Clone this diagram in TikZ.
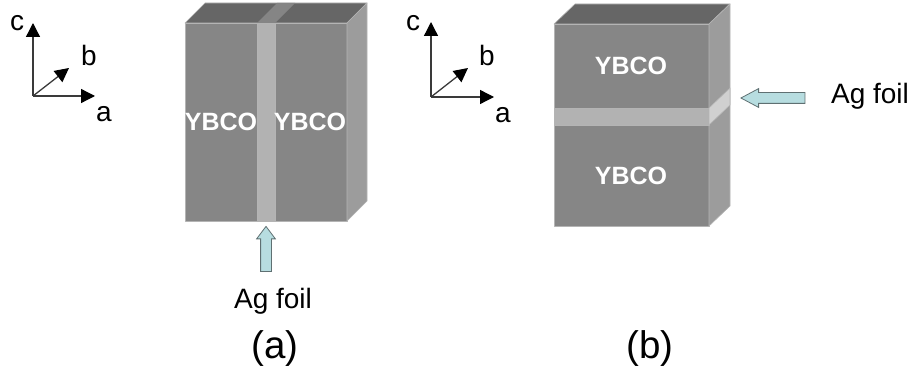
\documentclass[tikz,border=0pt]{standalone}
\usepackage{fontspec}
\setmainfont{Liberation Sans}
\usetikzlibrary{arrows.meta, shapes.arrows}
\definecolor{frontgray}{HTML}{868686}
\definecolor{topgray}{HTML}{666666}
\definecolor{sidegray}{HTML}{9C9C9C}
\definecolor{bandgray}{HTML}{B2B2B2}
\definecolor{bandtop}{HTML}{858585}
\definecolor{bandside}{HTML}{D0D0D0}
\definecolor{edgegray}{HTML}{B4B4B4}
\definecolor{foilblue}{HTML}{B7DDE0}
\definecolor{foiledge}{HTML}{5F7072}
\definecolor{axisgray}{HTML}{3A3A3A}
\newcommand{\sizedfont}[1]{\fontsize{#1}{#1}\selectfont}
\tikzset{
  face/.style={draw=edgegray, line width=0.6pt, line join=round},
  axisline/.style={draw=axisgray, line width=1.3pt, -{Triangle[length=14pt,width=14pt,color=black]}},
  axislabel/.style={anchor=base, inner sep=0pt, font=\sizedfont{28}},
  foilarrow/.style={single arrow, draw=foiledge, fill=foilblue, line width=0.8pt, inner sep=5pt,
    minimum width=18pt, single arrow head extend=4pt},
  foillabel/.style={anchor=base, inner sep=0pt, font=\sizedfont{28}},
  ybcolabel/.style={anchor=base, inner sep=0pt, text=white, font=\sizedfont{25}\bfseries},
  caption/.style={anchor=base, inner sep=0pt, font=\sizedfont{38.5}}
}
\begin{document}
\begin{tikzpicture}[x=1pt,y=-1pt]
    \useasboundingbox (0,0) rectangle (912,374);
    % axes of (a)
    \coordinate (origina) at (33,96);
    \coordinate (aenda) at (95,96);
    \coordinate (benda) at (69,68);
    \coordinate (cenda) at (33,23);
    \draw[axisline] (origina) -- (aenda);
    \draw[axisline] (origina) -- (benda);
    \draw[axisline] (origina) -- (cenda);
    \node (alabela) at (104,122) [axislabel] {a};
    \node (blabela) at (89,66) [axislabel] {b};
    \node (clabela) at (17,31) [axislabel] {c};
    % block (a)
    \fill[face,fill=frontgray] (185,23) rectangle (347,221);
    \fill[face,fill=topgray] (185,23) -- (205,3) -- (367,3) -- (347,23) -- cycle;
    \fill[face,fill=sidegray] (347,23) -- (367,3) -- (367,201) -- (347,221) -- cycle;
    \fill[bandtop] (257,23) -- (277,3) -- (295,3) -- (275,23) -- cycle;
    \fill[face,fill=bandgray] (257,23) rectangle (275,221);
    \node (ybcoaleft) at (221,131) [ybcolabel] {YBCO};
    \node (ybcoaright) at (310,131) [ybcolabel] {YBCO};
    \node (foilarrowa) at (266,252.5) [foilarrow, rotate=90, minimum height=45pt, single arrow tip angle=74] {};
    \node (foillabela) at (273,308) [foillabel] {Ag foil};
    \node (captiona) at (275,358) [caption] {(a)};
    % axes of (b)
    \coordinate (originb) at (431,97);
    \coordinate (aendb) at (494,97);
    \coordinate (bendb) at (468,68);
    \coordinate (cendb) at (431,22);
    \draw[axisline] (originb) -- (aendb);
    \draw[axisline] (originb) -- (bendb);
    \draw[axisline] (originb) -- (cendb);
    \node (alabelb) at (503,123) [axislabel] {a};
    \node (blabelb) at (487,66) [axislabel] {b};
    \node (clabelb) at (413,31) [axislabel] {c};
    % block (b)
    \fill[face,fill=frontgray] (554,24) rectangle (709,226);
    \fill[face,fill=topgray] (554,24) -- (575,4) -- (730,4) -- (709,24) -- cycle;
    \fill[face,fill=sidegray] (709,24) -- (730,4) -- (730,206) -- (709,226) -- cycle;
    \fill[face,fill=bandgray] (554,108) rectangle (709,125);
    \fill[face,fill=bandside] (709,108) -- (730,88) -- (730,105) -- (709,125) -- cycle;
    \node (ybcobtop) at (631,75) [ybcolabel] {YBCO};
    \node (ybcobbottom) at (631,185) [ybcolabel] {YBCO};
    \node (foilarrowb) at (778,98) [foilarrow, rotate=180, minimum height=64pt, single arrow tip angle=56] {};
    \node (foillabelb) at (870,104) [foillabel] {Ag foil};
    \node (captionb) at (650,358) [caption] {(b)};
\end{tikzpicture}
\end{document}
